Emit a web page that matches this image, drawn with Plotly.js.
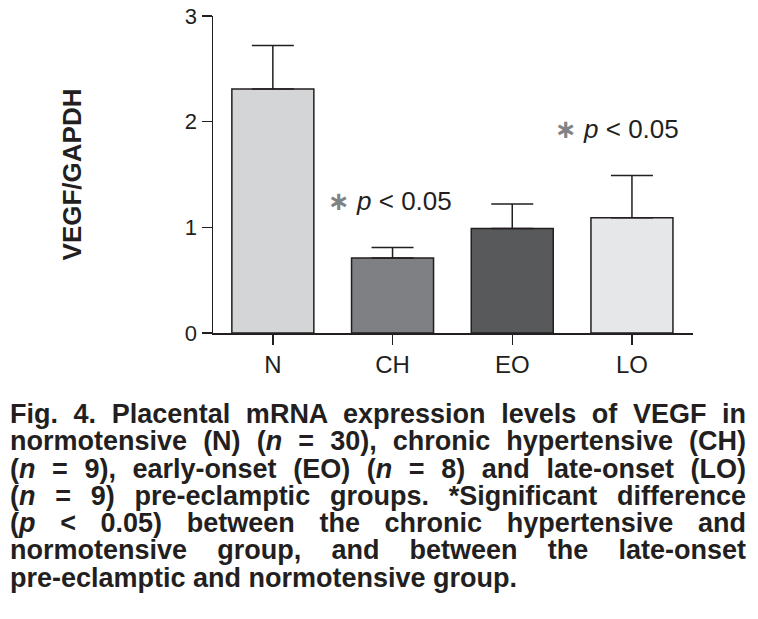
<!DOCTYPE html>
<html>
<head>
<meta charset="utf-8">
<script src="https://cdn.plot.ly/plotly-3.0.1.min.js"></script>
<style>
  body { margin: 0; background: #fff; }
  #wrap { position: relative; width: 758px; height: 619px; }
  #chart { width: 758px; height: 619px; }
  #caption {
    position: absolute; left: 10px; top: 401px; width: 736px;
    font: bold 27px "Liberation Sans", Arial, Helvetica, sans-serif;
    line-height: 27.3px; color: #231f20;
  }
  #caption div { white-space: nowrap; text-align: justify; text-align-last: justify; }
  #caption div:last-child { text-align-last: left; }
</style>
</head>
<body>
<div id="wrap">
  <div id="chart"></div>
  <div id="caption"></div>
</div>
<script>
// VEGF/GAPDH per group (bar = mean, error = upward SEM)
const groups = ['N', 'CH', 'EO', 'LO'];
const vegfMean = [2.31, 0.71, 0.99, 1.09];
const vegfErr = [0.41, 0.10, 0.23, 0.40];
const barColors = ['#d4d5d7', '#7f8084', '#58595b', '#e6e7e8'];

// groups flagged as significantly different from N
const sigGroups = ['CH', 'LO'];

const captionLines = [
    'Fig. 4. Placental mRNA expression levels of VEGF in',
    'normotensive (N) (<i>n</i> = 30), chronic hypertensive (CH)',
    '(<i>n</i> = 9), early-onset (EO) (<i>n</i> = 8) and late-onset (LO)',
    '(<i>n</i> = 9) pre-eclamptic groups. *Significant difference',
    '(<i>p</i> &lt; 0.05) between the chronic hypertensive and',
    'normotensive group, and between the late-onset',
    'pre-eclamptic and normotensive group.'
];

const INK = '#231f20';
const FONT = 'Liberation Sans, Arial, Helvetica, sans-serif';

const trace = {
    x: groups,
    y: vegfMean,
    type: 'bar',
    marker: {color: barColors, line: {color: INK, width: 1.5}},
    error_y: {
        type: 'data',
        symmetric: false,
        array: vegfErr,
        arrayminus: vegfErr.map(() => 0),
        color: INK,
        thickness: 1.5,
        width: 21
    },
    hoverinfo: 'x+y'
};

// significance marks above the error bars
const annotations = sigGroups.map((g, k) => {
    const i = groups.indexOf(g);
    return {
        x: g, y: vegfMean[i] + vegfErr[i] + 0.44,
        xref: 'x', yref: 'y',
        xshift: k === 0 ? -3 : -15,
        text: '<span style="color:#808285;font-family:DejaVu Sans;font-weight:bold">\u2217</span> <i>p</i> &lt; 0.05',
        showarrow: false,
        font: {family: FONT, size: 26, color: INK}
    };
});

const layout = {
    width: 758,
    height: 619,
    margin: {l: 213, r: 65, t: 16, b: 286},
    paper_bgcolor: '#fff',
    plot_bgcolor: '#fff',
    showlegend: false,
    bargap: 0.315,
    font: {family: FONT, color: INK},
    xaxis: {
        range: [-0.5, 3.51],
        showline: true, linecolor: INK, linewidth: 1.5,
        ticks: 'outside', ticklen: 10, tickwidth: 1.5, tickcolor: INK,
        tickfont: {size: 24, color: INK},
        showgrid: false, zeroline: false
    },
    yaxis: {
        range: [0, 3],
        dtick: 1,
        showline: true, linecolor: INK, linewidth: 1.5,
        ticks: 'outside', ticklen: 10, tickwidth: 1.5, tickcolor: INK,
        tickfont: {size: 22, color: INK},
        showgrid: false, zeroline: false,
        title: {text: '<b>VEGF/GAPDH</b>', font: {size: 26, color: INK}, standoff: 95}
    },
    annotations: annotations
};

Plotly.newPlot('chart', [trace], layout, {displayModeBar: false, staticPlot: true});

// figure caption, justified like the printed legend
document.getElementById('caption').innerHTML =
    captionLines.map(l => '<div>' + l + '</div>').join('');
</script>
</body>
</html>
